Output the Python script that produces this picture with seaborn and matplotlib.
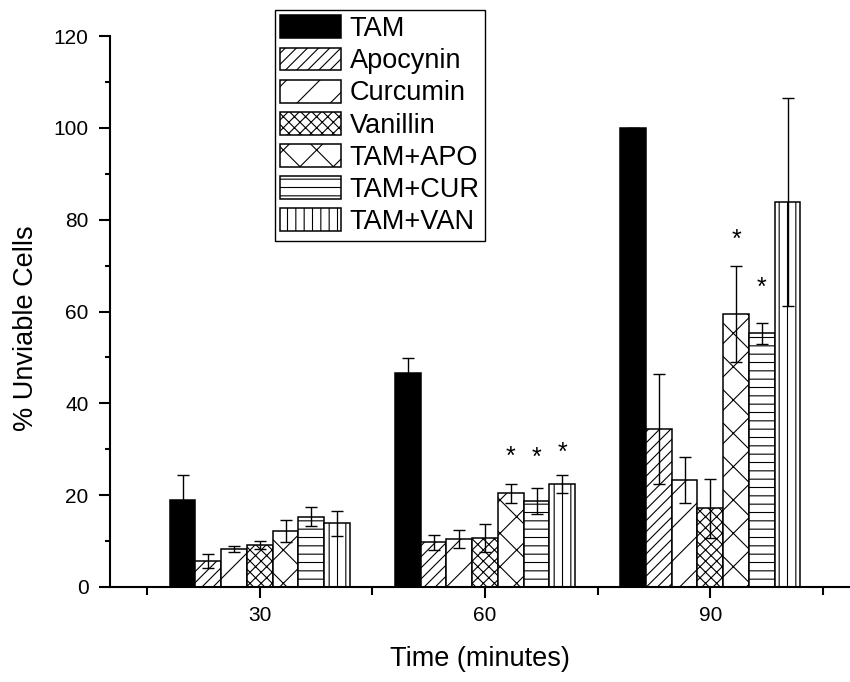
""" % Unviable cells by treatment and time """

import pandas as pd
import matplotlib
matplotlib.use('Agg')
import matplotlib.pyplot as plt
from matplotlib.ticker import MultipleLocator
import seaborn as sns

# Data
times = ['30', '60', '90']
treatments = ['TAM', 'Apocynin', 'Curcumin', 'Vanillin', 'TAM+APO', 'TAM+CUR', 'TAM+VAN']
means = {
    'TAM':      [19.0, 46.5, 100.0],
    'Apocynin': [5.7, 9.7, 34.4],
    'Curcumin': [8.3, 10.4, 23.3],
    'Vanillin': [9.2, 10.7, 17.1],
    'TAM+APO':  [12.2, 20.4, 59.4],
    'TAM+CUR':  [15.3, 18.7, 55.3],
    'TAM+VAN':  [13.9, 22.4, 83.9],
}
errors = {
    'TAM':      [5.5, 3.4, 0.0],
    'Apocynin': [1.5, 1.6, 12.0],
    'Curcumin': [0.7, 2.0, 5.0],
    'Vanillin': [0.9, 3.0, 6.5],
    'TAM+APO':  [2.4, 2.0, 10.5],
    'TAM+CUR':  [2.1, 2.8, 2.3],
    'TAM+VAN':  [2.7, 2.0, 22.7],
}
# significance stars: (treatment, time, y position)
stars = [('TAM+APO', '60', 30.0), ('TAM+CUR', '60', 29.7), ('TAM+VAN', '60', 30.9),
         ('TAM+APO', '90', 77.2), ('TAM+CUR', '90', 66.7)]

hatches = ['', '///', '/', 'xxx', 'x', '--', '||']
palette = {t: 'white' for t in treatments}
palette['TAM'] = 'black'

rows = []
for t in treatments:
    for i, tm in enumerate(times):
        rows.append({'Time': tm, 'Treatment': t, 'Value': means[t][i], 'Err': errors[t][i]})
df = pd.DataFrame(rows)

sns.set_style('ticks')
plt.rcParams['font.family'] = ['Liberation Sans', 'DejaVu Sans']
plt.rcParams['hatch.linewidth'] = 0.8
plt.rcParams['text.color'] = 'black'
plt.rcParams['axes.labelcolor'] = 'black'
plt.rcParams['xtick.color'] = 'black'
plt.rcParams['ytick.color'] = 'black'
plt.rcParams['axes.edgecolor'] = 'black'

fig = plt.figure(figsize=(8.5, 6.82), dpi=100)
ax = fig.add_axes([110 / 850, 1 - 587 / 682, 740 / 850, 551 / 682])

sns.barplot(data=df, x='Time', y='Value', hue='Treatment', order=times, hue_order=treatments,
            palette=palette, edgecolor='black', linewidth=1.1, errorbar=None,
            legend=False, ax=ax, zorder=1)

# hatches and error bars
bar_x = {}
for cont, t, h in zip(ax.containers, treatments, hatches):
    cont.set_label(t)
    xs, ys, es = [], [], []
    for j, bar in enumerate(cont):
        bar.set_hatch(h)
        x = bar.get_x() + bar.get_width() / 2
        bar_x[(t, times[j])] = x
        xs.append(x)
        ys.append(bar.get_height())
        es.append(errors[t][j])
    ax.errorbar(xs, ys, yerr=es, fmt='none', ecolor='black', elinewidth=1,
                capsize=4, capthick=1, zorder=3)

for t, tm, y in stars:
    ax.annotate('*', xy=(bar_x[(t, tm)], y), xytext=(0, -10.5), textcoords='offset points',
                ha='center', va='baseline', fontsize=18)

ax.set_ylim(0, 120)
ax.set_xlim(-0.665, 2.62)
ax.yaxis.set_major_locator(MultipleLocator(20))
ax.yaxis.set_minor_locator(MultipleLocator(10))
ax.set_xticks([-0.5, 0.5, 1.5, 2.5], minor=True)

for side in ['top', 'right']:
    ax.spines[side].set_visible(False)
for side in ['left', 'bottom']:
    ax.spines[side].set_linewidth(1.5)
    ax.spines[side].set_color('black')
ax.tick_params(which='major', length=8, width=1.5, labelsize=15, direction='out')
ax.tick_params(axis='y', which='major', pad=7.5)
ax.tick_params(axis='x', which='major', pad=5.5)
ax.tick_params(axis='y', which='minor', length=3.6, width=1.5, direction='out')
ax.tick_params(axis='x', which='minor', length=5.5, width=1.5, direction='out')

ax.set_xlabel('Time (minutes)', fontsize=19.5, labelpad=15)
ax.set_ylabel('% Unviable Cells', fontsize=19.5, labelpad=10)
ax.yaxis.label.set_y(0.47)

fig.legend(handles=ax.containers, labels=treatments, loc='upper left',
           bbox_to_anchor=(275 / 850, 1 - 10 / 682), bbox_transform=fig.transFigure,
           fontsize=19.5, frameon=True, fancybox=False, framealpha=1, edgecolor='black',
           borderpad=0.2, borderaxespad=0, labelspacing=0.2, handlelength=2.25,
           handleheight=0.92, handletextpad=0.3)
fig.legends[0].get_frame().set_linewidth(1.0)

plt.savefig('out.png', dpi=100)
plt.close()
